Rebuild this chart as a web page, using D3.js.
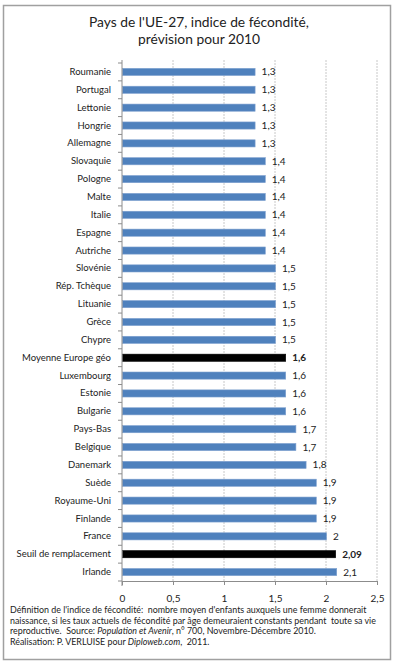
<!DOCTYPE html>
<html>
<head>
<meta charset="utf-8">
<script src="https://cdn.jsdelivr.net/npm/d3@7"></script>
<style>
  body { margin: 0; background: #fff; }
  text { font-family: Lato, "Open Sans", sans-serif; fill: #222; }
</style>
</head>
<body>
<div id="chart"></div>
<script>
// pays / valeurs, de haut en bas
const countries = ['Roumanie', 'Portugal', 'Lettonie', 'Hongrie', 'Allemagne', 'Slovaquie', 'Pologne',
  'Malte', 'Italie', 'Espagne', 'Autriche', 'Slovénie', 'Rép. Tchèque', 'Lituanie', 'Grèce', 'Chypre',
  'Moyenne Europe géo', 'Luxembourg', 'Estonie', 'Bulgarie', 'Pays-Bas', 'Belgique', 'Danemark',
  'Suède', 'Royaume-Uni', 'Finlande', 'France', 'Seuil de remplacement', 'Irlande'];
const values = [1.3, 1.3, 1.3, 1.3, 1.3, 1.4, 1.4, 1.4, 1.4, 1.4, 1.4, 1.5, 1.5, 1.5, 1.5, 1.5,
  1.6, 1.6, 1.6, 1.6, 1.7, 1.7, 1.8, 1.9, 1.9, 1.9, 2, 2.09, 2.1];
const highlighted = ['Moyenne Europe géo', 'Seuil de remplacement'];
const xTicks = [0, 0.5, 1, 1.5, 2, 2.5];

const titleLines = ["Pays de l'UE-27, indice de fécondité,", 'prévision pour 2010'];

const width = 400, height = 667;
const margin = { top: 63, left: 122, right: 23, bottom: 86 };

const svg = d3.select('#chart').append('svg')
  .attr('width', width)
  .attr('height', height);

// cadre
svg.append('rect')
  .attr('x', 3.5).attr('y', 5.5)
  .attr('width', 387).attr('height', 654)
  .attr('fill', '#fff')
  .attr('stroke', '#a0a0a0')
  .attr('stroke-width', 1.5);

svg.selectAll('.title')
  .data(titleLines)
  .enter()
  .append('text')
  .attr('class', 'title')
  .attr('x', 199)
  .attr('y', (d, i) => 27 + i * 17)
  .attr('text-anchor', 'middle')
  .style('font-size', '13.8px')
  .text(d => d);

const x = d3.scaleLinear().domain([0, 2.5]).range([margin.left, width - margin.right]);
const y = d3.scaleBand().domain(countries).range([margin.top, height - margin.bottom]).paddingInner(0.6).paddingOuter(0.3);

// grille
svg.selectAll('.grid')
  .data(xTicks.slice(1))
  .enter()
  .append('line')
  .attr('x1', d => x(d)).attr('x2', d => x(d))
  .attr('y1', margin.top - 3).attr('y2', height - margin.bottom)
  .attr('stroke', '#c8c8c8')
  .attr('stroke-dasharray', '2,1');

const fmt = v => String(v).replace('.', ',');

svg.selectAll('.bar')
  .data(countries)
  .enter()
  .append('rect')
  .attr('x', x(0) + 0.5)
  .attr('y', d => y(d))
  .attr('width', (d, i) => x(values[i]) - x(0))
  .attr('height', y.bandwidth())
  .attr('fill', d => highlighted.includes(d) ? '#000' : '#4f81bd')
  .attr('stroke', d => highlighted.includes(d) ? '#000' : '#7ea1cf')
  .attr('stroke-width', 0.6);

svg.selectAll('.val')
  .data(countries)
  .enter()
  .append('text')
  .attr('x', (d, i) => x(values[i]) + 7)
  .attr('y', d => y(d) + y.bandwidth() / 2)
  .attr('dy', '0.35em')
  .style('font-size', '10px')
  .style('font-weight', d => highlighted.includes(d) ? 'bold' : 'normal')
  .text((d, i) => fmt(values[i]));

// axe vertical
const yAxis = svg.append('g')
  .attr('transform', `translate(${margin.left},0)`)
  .call(d3.axisLeft(y).tickSize(0).tickPadding(11));
yAxis.select('.domain').attr('stroke', '#8c8c8c').attr('d', `M0,${margin.top - 3}V${height - margin.bottom + 5}`);
yAxis.selectAll('text').style('font-size', '9.5px');

// petites graduations entre les catégories
const step = y.step();
const mid = d => y(d) + y.bandwidth() / 2;
svg.selectAll('.ytick')
  .data(countries.concat(['__end']))
  .enter()
  .append('line')
  .attr('x1', margin.left - 4).attr('x2', margin.left)
  .attr('y1', (d, i) => mid(countries[0]) - step / 2 + i * step)
  .attr('y2', (d, i) => mid(countries[0]) - step / 2 + i * step)
  .attr('stroke', '#8c8c8c');

// axe horizontal
const xAxis = svg.append('g')
  .attr('transform', `translate(0,${height - margin.bottom})`)
  .call(d3.axisBottom(x).tickValues(xTicks).tickSize(4).tickPadding(10).tickFormat(fmt));
xAxis.select('.domain').attr('stroke', '#8c8c8c');
xAxis.selectAll('line').attr('stroke', '#8c8c8c');
xAxis.selectAll('text').style('font-size', '10px');

// note
const note = svg.append('g').style('font-size', '8.9px');
const noteLines = [
  [["Définition de l'indice de fécondité:  nombre moyen d'enfants auxquels une femme donnerait", false]],
  [['naissance, si les taux actuels de fécondité par âge demeuraient constants pendant  toute sa vie', false]],
  [['reproductive.  Source: ', false], ['Population et Avenir', true], [', n° 700, Novembre-Décembre 2010.', false]],
  [['Réalisation: P. VERLUISE pour ', false], ['Diploweb.com', true], [',  2011.', false]]
];
noteLines.forEach((parts, i) => {
  const t = note.append('text').attr('x', 10).attr('y', 613 + i * 10.7).style('white-space', 'pre');
  parts.forEach(p => t.append('tspan').style('font-style', p[1] ? 'italic' : 'normal').text(p[0]));
});
</script>
</body>
</html>
